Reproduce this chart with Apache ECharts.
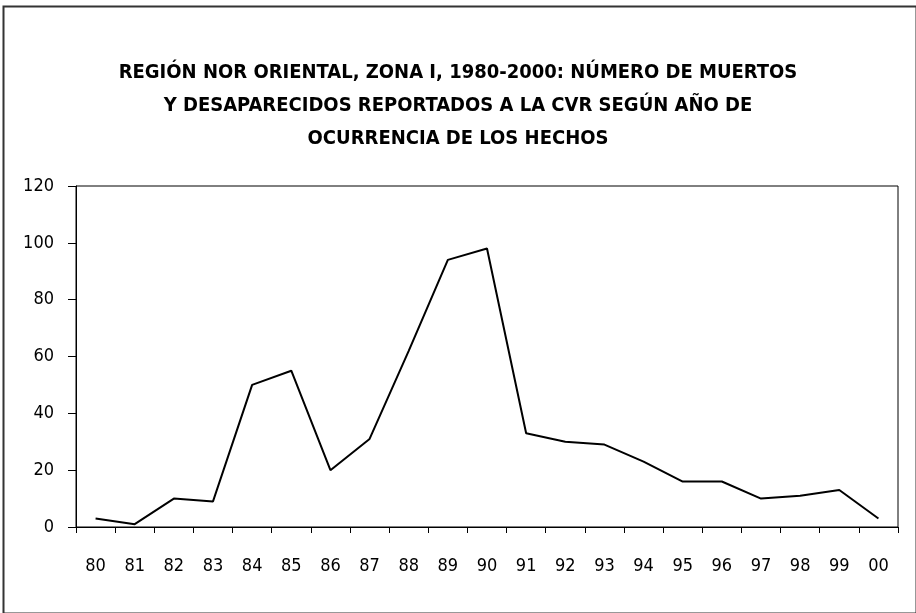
<!DOCTYPE html>
<html>
<head>
<meta charset="utf-8">
<script src="https://cdn.jsdelivr.net/npm/echarts@6/dist/echarts.min.js"></script>
<style>
html,body{margin:0;padding:0;background:#fff;}
#chart{width:916px;height:613px;}
</style>
</head>
<body>
<div id="chart"></div>
<script>
const titleText = "REGIÓN NOR ORIENTAL, ZONA I, 1980-2000: NÚMERO DE MUERTOS\nY DESAPARECIDOS REPORTADOS A LA CVR SEGÚN AÑO DE\nOCURRENCIA DE LOS HECHOS";
const years = ["80","81","82","83","84","85","86","87","88","89","90","91","92","93","94","95","96","97","98","99","00"];
const victims = [3,1,10,9,50,55,20,31,62,94,98,33,30,29,23,16,16,10,11,13,3];
const yTicks = {min:0, max:120, interval:20};

const chart = echarts.init(document.getElementById('chart'), null, {renderer:'canvas'});
const fontFam = '"Liberation Sans Narrow", "Arial Narrow", "DejaVu Sans Condensed", sans-serif';
chart.setOption({
  animation:false,
  backgroundColor:'#fff',
  graphic:[{
    type:'rect', left:1, top:4, shape:{width:913, height:607},
    style:{fill:null, stroke:'#333', lineWidth:2}, silent:true
  }],
  title:{
    text:titleText, left:'center', top:51,
    textStyle:{fontFamily:fontFam, fontWeight:'bold', fontSize:20, lineHeight:33, color:'#000'}
  },
  grid:{left:76, right:18, top:186, bottom:86, show:true, borderColor:'#000', borderWidth:1},
  xAxis:{
    type:'category', data:years, boundaryGap:true,
    axisLine:{lineStyle:{color:'#000', width:1}},
    axisTick:{show:true, length:6, lineStyle:{color:'#000'}},
    axisLabel:{fontFamily:fontFam, fontSize:18, color:'#000', margin:30}
  },
  yAxis:{
    type:'value', min:yTicks.min, max:yTicks.max, interval:yTicks.interval,
    splitLine:{show:false},
    axisLine:{show:true, lineStyle:{color:'#000', width:1}},
    axisTick:{show:true, length:8, lineStyle:{color:'#000'}},
    axisLabel:{fontFamily:fontFam, fontSize:18, color:'#000', margin:22}
  },
  series:[{
    type:'line', data:victims, showSymbol:false, symbol:'none',
    lineStyle:{color:'#000', width:2}
  }]
});
</script>
</body>
</html>
